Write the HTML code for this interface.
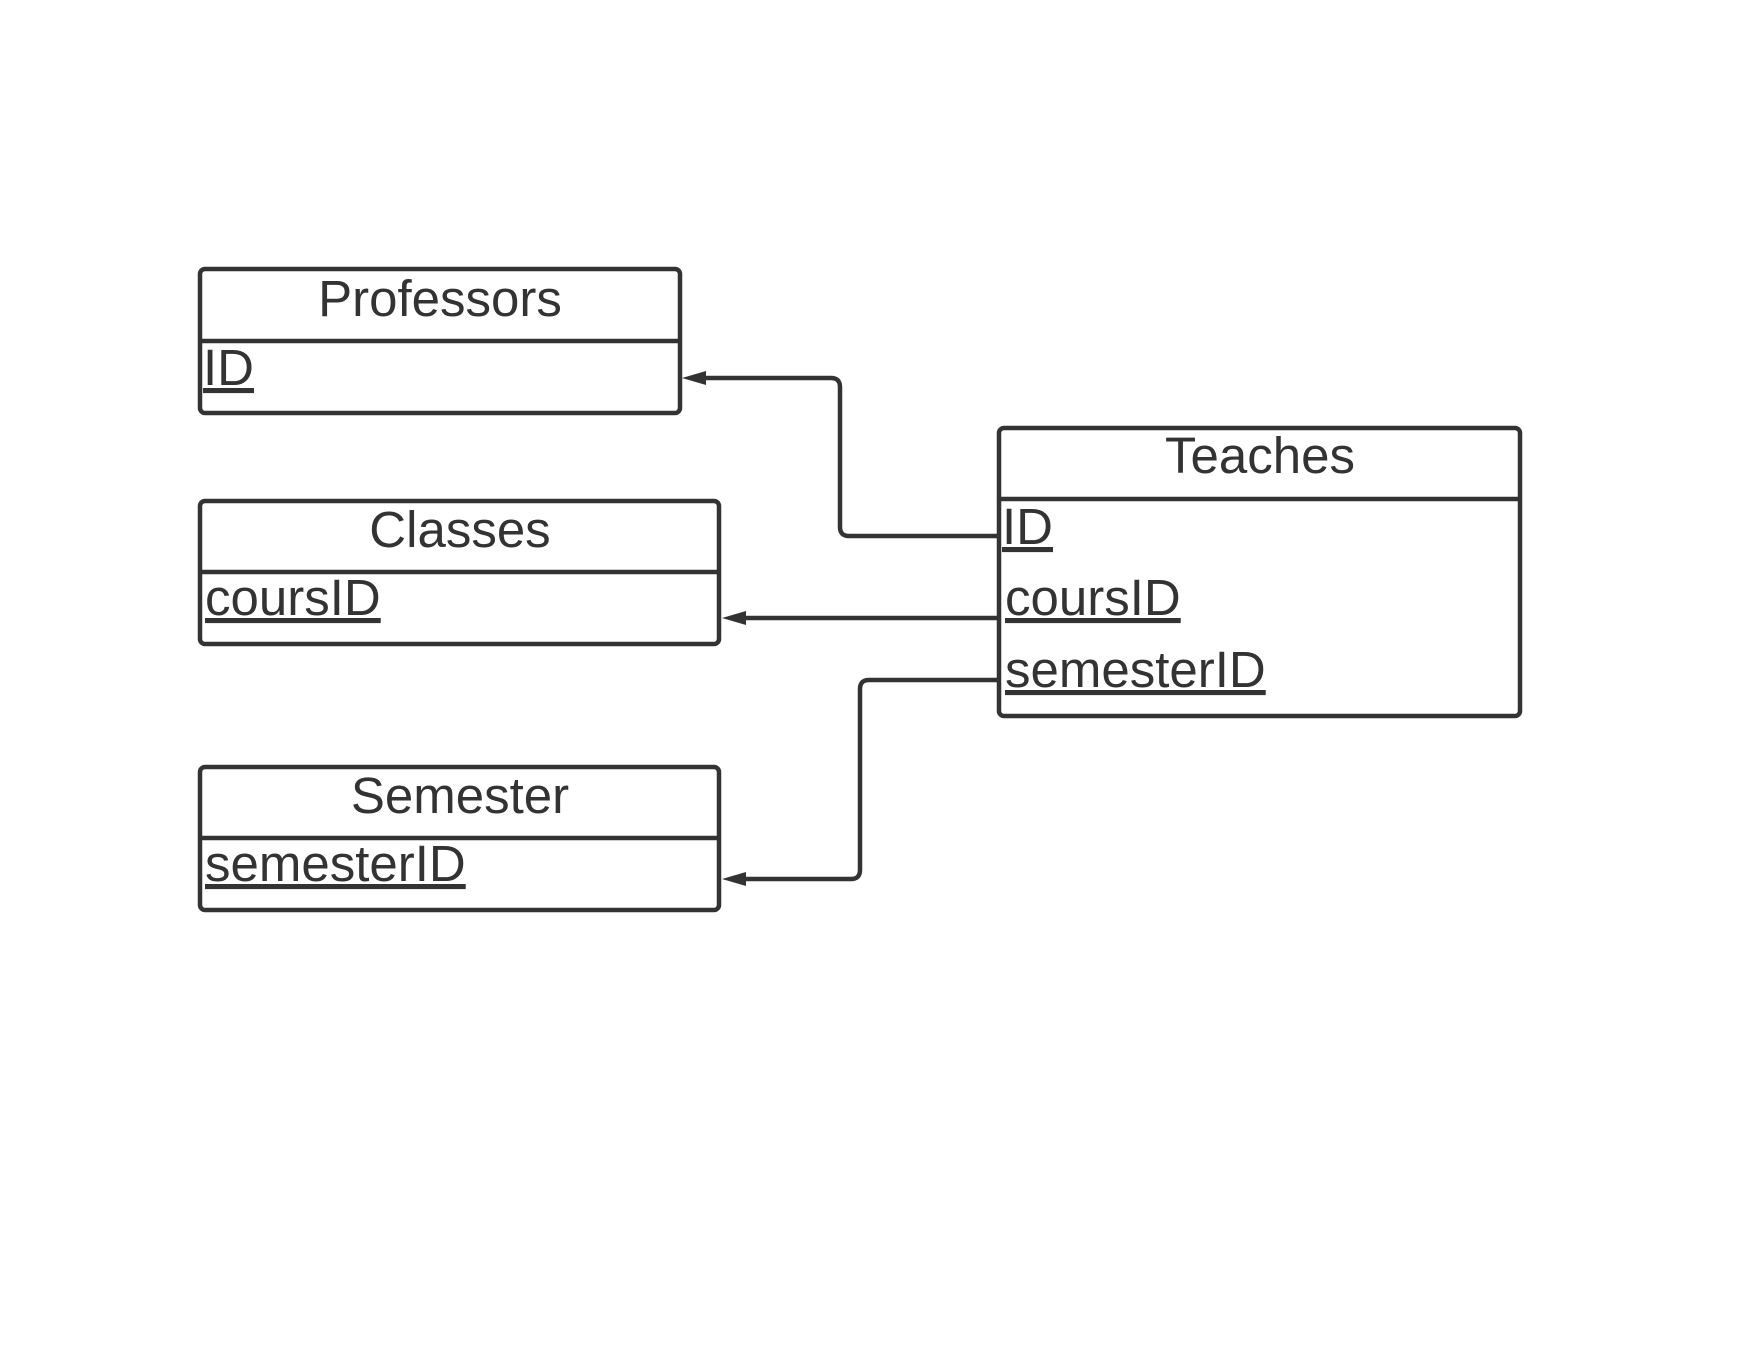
<!DOCTYPE html>
<html><head><style>body{margin:0;background:#fff}</style></head><body>
<svg width="1760" height="1360" xmlns="http://www.w3.org/2000/svg" font-family="Liberation Sans, sans-serif" fill="#333">
<rect width="1760" height="1360" fill="#fff"/>
<g fill="none" stroke="#333" stroke-width="4.5">
<rect x="200" y="269" width="480" height="144" rx="5"/><line x1="200" y1="341" x2="680" y2="341"/>
<rect x="200" y="501" width="519" height="143" rx="5"/><line x1="200" y1="572" x2="719" y2="572"/>
<rect x="200" y="767" width="519" height="143" rx="5"/><line x1="200" y1="838" x2="719" y2="838"/>
<rect x="999" y="428" width="521" height="288" rx="5"/><line x1="999" y1="499" x2="1520" y2="499"/>
<path d="M999 536 H849 Q840 536 840 527 V387 Q840 378 831 378 H700"/>
<path d="M999 618 H740"/>
<path d="M999 680 H869 Q860 680 860 689 V870 Q860 879 851 879 H740"/>
</g>
<polygon points="682,378 706,371 706,385"/>
<polygon points="722,618 746,611 746,625"/>
<polygon points="722,879 746,872 746,886"/>
<g font-size="51" text-anchor="middle">
<text x="440" y="316">Professors</text>
<text x="460" y="547">Classes</text>
<text x="460" y="813">Semester</text>
<text x="1260" y="473">Teaches</text>
</g>
<g font-size="51">
<text x="203" y="385" text-decoration="underline">ID</text>
<text x="205" y="615" text-decoration="underline">coursID</text>
<text x="205" y="881" text-decoration="underline">semesterID</text>
<text x="1002" y="544" text-decoration="underline">ID</text>
<text x="1005" y="615" text-decoration="underline">coursID</text>
<text x="1005" y="687" text-decoration="underline">semesterID</text>
</g>
</svg>
</body></html>
